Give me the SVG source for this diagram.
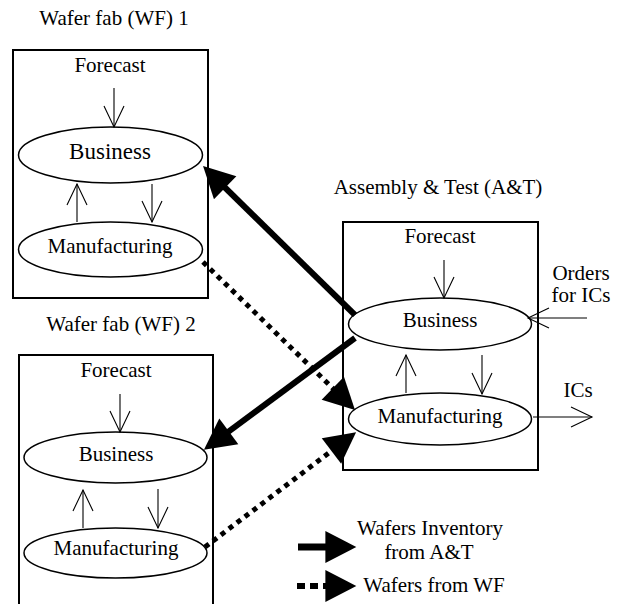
<svg xmlns="http://www.w3.org/2000/svg" width="623" height="604" viewBox="0 0 623 604">
<style>
text{font-family:"Liberation Serif","Times New Roman",serif;font-size:21px;fill:#000;text-anchor:middle}
.box{fill:none;stroke:#000;stroke-width:2}
.ell{fill:#fff;stroke:#000;stroke-width:1.5}
.thin{fill:none;stroke:#000;stroke-width:1.1;marker-end:url(#open)}
.thick{fill:none;stroke:#000;stroke-width:6;marker-end:url(#solid)}
.dot{fill:none;stroke:#000;stroke-width:5;stroke-dasharray:5 5;marker-end:url(#solid)}
</style>
<defs>
<marker id="open" markerUnits="userSpaceOnUse" markerWidth="24" markerHeight="24" viewBox="-22 -12 24 24" refX="0" refY="0" orient="auto" overflow="visible">
<path d="M-21,-10 L0,0 L-21,10" fill="none" stroke="#000" stroke-width="1.1"/>
</marker>
<marker id="solid" markerUnits="userSpaceOnUse" markerWidth="32" markerHeight="32" viewBox="0 0 30 30" refX="9" refY="15" orient="auto" overflow="visible">
<path d="M0,0 L29,15 L0,30 Z" fill="#000"/>
</marker>
</defs>

<g id="wf1">
<text x="114" y="25">Wafer fab (WF) 1</text>
<rect class="box" x="13" y="50" width="195" height="248"/>
<text x="110" y="72">Forecast</text>
<ellipse class="ell" cx="110.5" cy="155" rx="92" ry="28"/>
<text x="110" y="159" style="font-size:23px">Business</text>
<ellipse class="ell" cx="110.5" cy="249.5" rx="92" ry="27.5"/>
<text x="110" y="253">Manufacturing</text>
<line class="thin" x1="114" y1="88" x2="114" y2="127"/>
<line class="thin" x1="77" y1="222" x2="77" y2="184"/>
<line class="thin" x1="152" y1="184" x2="152" y2="222"/>
</g>

<g id="wf2">
<text x="121" y="331">Wafer fab (WF) 2</text>
<path class="box" d="M19,610 V355 H213 V610"/>
<text x="116" y="377">Forecast</text>
<ellipse class="ell" cx="115.5" cy="457.5" rx="91.5" ry="25.5"/>
<text x="116" y="461">Business</text>
<ellipse class="ell" cx="115.5" cy="553" rx="91.5" ry="25"/>
<text x="116" y="555">Manufacturing</text>
<line class="thin" x1="120" y1="394" x2="120" y2="432"/>
<line class="thin" x1="83" y1="528" x2="83" y2="490"/>
<line class="thin" x1="158" y1="489" x2="158" y2="528"/>
</g>

<g id="at">
<text x="438" y="194">Assembly &amp; Test (A&amp;T)</text>
<rect class="box" x="343" y="222" width="195" height="248"/>
<text x="440" y="243">Forecast</text>
<ellipse class="ell" cx="440" cy="324" rx="91.5" ry="26"/>
<text x="440" y="327">Business</text>
<ellipse class="ell" cx="440" cy="419" rx="91.5" ry="26"/>
<text x="440" y="423">Manufacturing</text>
<line class="thin" x1="444" y1="260" x2="444" y2="298"/>
<line class="thin" x1="406" y1="393" x2="406" y2="355"/>
<line class="thin" x1="482" y1="355" x2="482" y2="394"/>
<text x="581" y="280">Orders</text>
<text x="581" y="302">for ICs</text>
<text x="578" y="397">ICs</text>
</g>

<g id="connectors">
<line class="thin" x1="587" y1="318" x2="528" y2="318"/>
<line class="thin" x1="533" y1="417" x2="592" y2="417"/>
<line class="thick" x1="355" y1="315" x2="218.3" y2="181"/>
<line class="thick" x1="355" y1="338" x2="221.1" y2="437.1"/>
<line class="dot" x1="203" y1="262" x2="339.7" y2="395"/>
<line class="dot" x1="205" y1="547" x2="339.1" y2="445.1"/>
</g>

<g id="legend">
<line class="thick" x1="298" y1="547" x2="335" y2="547" style="stroke-width:7"/>
<text x="430" y="535">Wafers Inventory</text>
<text x="429" y="559">from A&amp;T</text>
<line class="dot" x1="297" y1="586" x2="335" y2="586" style="stroke-width:6;stroke-dasharray:8 5"/>
<text x="434" y="592">Wafers from WF</text>
</g>
</svg>
